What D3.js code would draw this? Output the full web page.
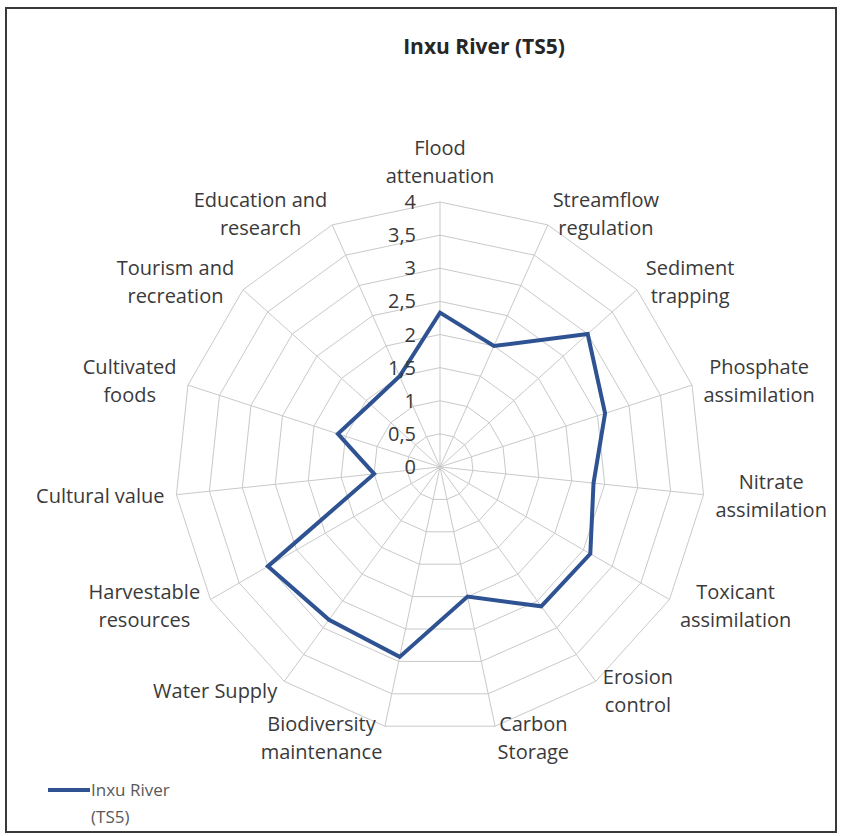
<!DOCTYPE html>
<html>
<head>
<meta charset="utf-8">
<title>Inxu River (TS5)</title>
<script src="https://d3js.org/d3.v7.min.js"></script>
<style>
    body { margin: 0; background: #fff; }
    text { font-family: "Open Sans", sans-serif; }
</style>
</head>
<body>
<div id="chart"></div>
<script>
// Data
const categories = [
    "Flood attenuation", "Streamflow regulation", "Sediment trapping",
    "Phosphate assimilation", "Nitrate assimilation", "Toxicant assimilation",
    "Erosion control", "Carbon Storage", "Biodiversity maintenance",
    "Water Supply", "Harvestable resources", "Cultural value",
    "Cultivated foods", "Tourism and recreation", "Education and research"
];
const labelLines = [
    ["Flood", "attenuation"], ["Streamflow", "regulation"], ["Sediment", "trapping"],
    ["Phosphate", "assimilation"], ["Nitrate", "assimilation"], ["Toxicant", "assimilation"],
    ["Erosion", "control"], ["Carbon", "Storage"], ["Biodiversity", "maintenance"],
    ["Water Supply"], ["Harvestable", "resources"], ["Cultural value"],
    ["Cultivated", "foods"], ["Tourism and", "recreation"], ["Education and", "research"]
];
const values = [2.33, 2.0, 3.0, 2.62, 2.33, 2.62, 2.6, 2.0, 2.93, 2.85, 3.0, 1.0, 1.62, 1.42, 1.5];
const ticks = [0, 0.5, 1, 1.5, 2, 2.5, 3, 3.5, 4];
const tickLabels = ["0", "0,5", "1", "1,5", "2", "2,5", "3", "3,5", "4"];
const seriesName = ["Inxu River", "(TS5)"];
const title = "Inxu River (TS5)";

// Layout
const width = 841, height = 836;
const cx = 440, cy = 467, R = 265;
const gridColor = "#c9c9c9";
const lineColor = "#2f5292";
const textColor = "#3a3a3a";

const svg = d3.select("#chart")
    .append("svg")
    .attr("width", width)
    .attr("height", height);

// outer frame
svg.append("rect")
    .attr("x", 6).attr("y", 8)
    .attr("width", 830).attr("height", 824)
    .attr("fill", "#fff")
    .attr("stroke", "#3a3a3a")
    .attr("stroke-width", 2);

const r = d3.scaleLinear().domain([0, 4]).range([0, R]);
const a = d3.scaleLinear().domain([0, categories.length]).range([0, 2 * Math.PI]);

const g = svg.append("g").attr("transform", `translate(${cx},${cy})`);

// rings
const ring = t => d3.lineRadial()
    .angle((d, i) => a(i))
    .radius(r(t))
    .curve(d3.curveLinearClosed)(categories);

g.selectAll("path.ring")
    .data(ticks.slice(1))
    .join("path")
    .attr("class", "ring")
    .attr("d", ring)
    .attr("fill", "none")
    .attr("stroke", gridColor)
    .attr("stroke-width", 1);

// spokes
g.selectAll("line.spoke")
    .data(categories)
    .join("line")
    .attr("class", "spoke")
    .attr("x1", 0).attr("y1", 0)
    .attr("x2", (d, i) => r(4) * Math.sin(a(i)))
    .attr("y2", (d, i) => -r(4) * Math.cos(a(i)))
    .attr("stroke", gridColor)
    .attr("stroke-width", 1);

// series
g.append("path")
    .datum(values)
    .attr("d", d3.lineRadial()
        .angle((d, i) => a(i))
        .radius(d => r(d))
        .curve(d3.curveLinearClosed))
    .attr("fill", "none")
    .attr("stroke", lineColor)
    .attr("stroke-width", 4)
    .attr("stroke-linejoin", "miter");

// tick labels along the first axis
g.selectAll("text.tick")
    .data(ticks)
    .join("text")
    .attr("class", "tick")
    .attr("x", -24)
    .attr("y", d => -r(d))
    .attr("dy", "0.35em")
    .attr("text-anchor", "end")
    .attr("font-size", 20)
    .attr("fill", textColor)
    .text((d, i) => tickLabels[i]);

// category labels
const lineH = 28, gap = 12;
labelLines.forEach((lines, i) => {
    const s = Math.sin(a(i)), c = -Math.cos(a(i));
    const ax = (R + gap) * s, ay = (R + gap) * c;
    const t = g.append("text")
        .attr("font-size", 20)
        .attr("fill", textColor)
        .attr("text-anchor", "middle");
    lines.forEach(l => t.append("tspan").text(l));
    let w = 0;
    t.selectAll("tspan").each(function () { w = Math.max(w, this.getComputedTextLength()); });
    const h = lines.length * lineH;
    let x = ax, y = ay;
    if (Math.abs(s) > 0.05) x = ax + Math.sign(s) * w / 2;
    else y = ay + Math.sign(c) * h / 2;
    const y0 = y - (lines.length - 1) * lineH / 2;
    t.selectAll("tspan")
        .attr("x", x)
        .attr("y", (d, k) => y0 + k * lineH)
        .attr("dy", "0.35em");
});

// title
svg.append("text")
    .attr("x", 484).attr("y", 47)
    .attr("dy", "0.35em")
    .attr("text-anchor", "middle")
    .attr("font-size", 21)
    .attr("font-weight", "bold")
    .attr("fill", "#262626")
    .text(title);

// legend
const lg = svg.append("g").attr("transform", "translate(48,790)");
lg.append("line")
    .attr("x1", 0).attr("x2", 42)
    .attr("stroke", lineColor)
    .attr("stroke-width", 4);
lg.selectAll("text")
    .data(seriesName)
    .join("text")
    .attr("x", 43)
    .attr("y", (d, i) => i * 27)
    .attr("dy", "0.35em")
    .attr("font-size", 17)
    .attr("fill", "#595959")
    .text(d => d);
</script>
</body>
</html>
